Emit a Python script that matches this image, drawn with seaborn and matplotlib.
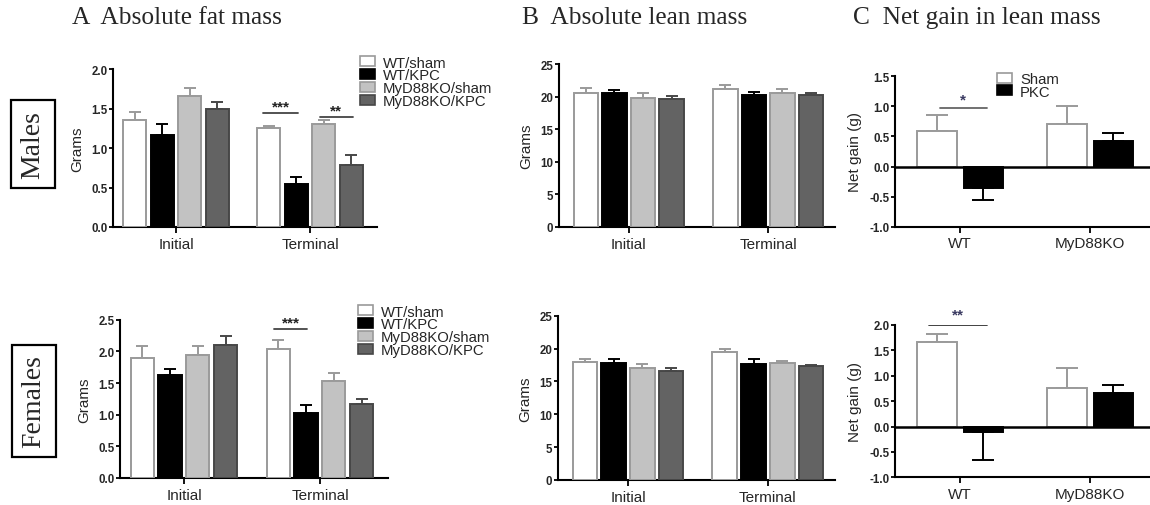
import numpy as np
import pandas as pd
import matplotlib
matplotlib.use("Agg")
import matplotlib.pyplot as plt
import seaborn as sns
from matplotlib.patches import Patch

# ---------------- data ----------------
times = ["Initial", "Terminal"]
strains = ["WT/sham", "WT/KPC", "MyD88KO/sham", "MyD88KO/KPC"]

male_fat_initial = [1.36, 1.17, 1.66, 1.50]
male_fat_terminal = [1.25, 0.55, 1.30, 0.79]
male_fat_sem_initial = [0.09, 0.14, 0.10, 0.08]
male_fat_sem_terminal = [0.03, 0.08, 0.06, 0.12]

female_fat_initial = [1.90, 1.63, 1.94, 2.10]
female_fat_terminal = [2.04, 1.03, 1.53, 1.17]
female_fat_sem_initial = [0.18, 0.09, 0.15, 0.15]
female_fat_sem_terminal = [0.14, 0.13, 0.13, 0.08]

male_lean_initial = [20.6, 20.6, 19.8, 19.7]
male_lean_terminal = [21.2, 20.3, 20.6, 20.2]
male_lean_sem_initial = [0.7, 0.45, 0.7, 0.45]
male_lean_sem_terminal = [0.6, 0.4, 0.5, 0.4]

female_lean_initial = [17.9, 17.8, 17.1, 16.65]
female_lean_terminal = [19.55, 17.65, 17.85, 17.3]
female_lean_sem_initial = [0.45, 0.65, 0.55, 0.35]
female_lean_sem_terminal = [0.4, 0.75, 0.25, 0.15]

genotypes = ["WT", "MyD88KO"]
treatments = ["Sham", "PKC"]
male_gain_sham = [0.59, 0.70]
male_gain_pkc = [-0.36, 0.42]
male_gain_sem_sham = [0.26, 0.31]
male_gain_sem_pkc = [0.20, 0.14]

female_gain_sham = [1.66, 0.76]
female_gain_pkc = [-0.10, 0.66]
female_gain_sem_sham = [0.16, 0.40]
female_gain_sem_pkc = [0.56, 0.16]

# ---------------- style ----------------
sns.set_style("ticks")
plt.rcParams["font.family"] = ["Liberation Sans", "DejaVu Sans"]
SERIF = ["Liberation Serif", "DejaVu Serif"]

fill_4 = {"WT/sham": "#ffffff", "WT/KPC": "#000000",
          "MyD88KO/sham": "#c2c2c2", "MyD88KO/KPC": "#636363"}
edge_4 = {"WT/sham": "#9a9a9a", "WT/KPC": "#000000",
          "MyD88KO/sham": "#9a9a9a", "MyD88KO/KPC": "#474747"}
fill_2 = {"Sham": "#ffffff", "PKC": "#000000"}
edge_2 = {"Sham": "#9a9a9a", "PKC": "#000000"}

fig = plt.figure(figsize=(11.5, 5.06), dpi=100)
W, H = 1150.0, 506.0


def add_ax(left, right, top, bottom):
    return fig.add_axes([left / W, 1 - bottom / H, (right - left) / W, (bottom - top) / H])


def grouped(ax, cats, hues, values_by_cat, sems_by_cat, fills, edges,
            width, gap, capsize):
    rows = []
    for c, vals, sems in zip(cats, values_by_cat, sems_by_cat):
        for h, v, s in zip(hues, vals, sems):
            rows.append({"cat": c, "hue": h, "value": v, "sem": s})
    df = pd.DataFrame(rows)
    sns.barplot(data=df, x="cat", y="value", hue="hue", order=cats,
                hue_order=hues, palette=fills, saturation=1, width=width,
                gap=gap, errorbar=None, legend=False, linewidth=1.4, ax=ax,
                zorder=3)
    centers = {}
    for h, cont in zip(hues, ax.containers):
        for c, patch in zip(cats, cont):
            patch.set_edgecolor(edges[h])
            x = patch.get_x() + patch.get_width() / 2
            y = patch.get_y() + patch.get_height()
            s = df[(df.cat == c) & (df.hue == h)]["sem"].iloc[0]
            yerr = [[0], [s]] if y >= 0 else [[s], [0]]
            ax.errorbar([x], [y], yerr=yerr, color=edges[h], capsize=capsize,
                        elinewidth=1.4, capthick=1.4, zorder=2)
            centers[(c, h)] = x
    return centers


def style(ax, ylim, yticks, fmt, ylabel):
    ax.set_ylim(*ylim)
    ax.set_yticks(yticks)
    ax.set_yticklabels([fmt.format(t) for t in yticks], fontsize=8.3,
                       fontweight="bold")
    ax.set_xlabel("")
    ax.set_ylabel(ylabel, fontsize=11, labelpad=5)
    for s in ["top", "right"]:
        ax.spines[s].set_visible(False)
    for s in ["left", "bottom"]:
        ax.spines[s].set_linewidth(1.5)
        ax.spines[s].set_color("black")
    ax.tick_params(axis="y", length=3, width=1.3, pad=1, color="black")
    ax.tick_params(axis="x", length=4, width=1.3, pad=3, labelsize=11,
                   color="black")
    ax.set_facecolor("none")


def sig(ax, x0, x1, y, text, lcolor, tcolor, ty):
    ax.plot([x0, x1], [y, y], color=lcolor, lw=1.3, zorder=4)
    ax.text((x0 + x1) / 2, ty, text, ha="center", va="center",
            fontsize=11, color=tcolor, fontweight="bold")


def legend(ax, names, fills, edges, bx, by, fs=10.7):
    handles = [Patch(facecolor=fills[n], edgecolor=edges[n], linewidth=1.2)
               for n in names]
    ax.legend(handles, names, loc="upper left", bbox_to_anchor=(bx, by),
              frameon=False, fontsize=fs, handlelength=1.0, handleheight=0.65,
              handletextpad=0.55, labelspacing=-0.08, borderpad=0,
              borderaxespad=0)


# ---------- Panel A ----------
axAm = add_ax(113, 377, 70, 228)
c = grouped(axAm, times, strains, [male_fat_initial, male_fat_terminal],
            [male_fat_sem_initial, male_fat_sem_terminal], fill_4, edge_4,
            0.82, 0.17, 4.5)
axAm.set_xlim(-0.47, 1.5)
style(axAm, (0, 2.0), [0, 0.5, 1.0, 1.5, 2.0], "{:.1f}", "Grams")
sig(axAm, c[("Terminal", "WT/sham")] - 0.04, c[("Terminal", "WT/KPC")] + 0.01,
    1.44, "***", "#444444", "#222222", 1.53)
sig(axAm, c[("Terminal", "MyD88KO/sham")] - 0.03, c[("Terminal", "MyD88KO/KPC")] + 0.01,
    1.39, "**", "#444444", "#222222", 1.48)
legend(axAm, strains, fill_4, edge_4, 0.936, 1.085)

axAf = add_ax(120, 388, 320.7, 479)
c = grouped(axAf, times, strains, [female_fat_initial, female_fat_terminal],
            [female_fat_sem_initial, female_fat_sem_terminal], fill_4, edge_4,
            0.82, 0.17, 4.5)
axAf.set_xlim(-0.47, 1.5)
style(axAf, (0, 2.5), [0, 0.5, 1.0, 1.5, 2.0, 2.5], "{:.1f}", "Grams")
sig(axAf, c[("Terminal", "WT/sham")] - 0.03, c[("Terminal", "WT/KPC")] + 0.01,
    2.35, "***", "#444444", "#222222", 2.46)
legend(axAf, strains, fill_4, edge_4, 0.888, 1.095)

# ---------- Panel B ----------
axBm = add_ax(559, 835, 65, 228)
grouped(axBm, times, strains, [male_lean_initial, male_lean_terminal],
        [male_lean_sem_initial, male_lean_sem_terminal], fill_4, edge_4,
        0.82, 0.14, 4.5)
axBm.set_xlim(-0.5, 1.48)
style(axBm, (0, 25), [0, 5, 10, 15, 20, 25], "{:d}", "Grams")

axBf = add_ax(558, 835, 316.7, 481)
grouped(axBf, times, strains, [female_lean_initial, female_lean_terminal],
        [female_lean_sem_initial, female_lean_sem_terminal], fill_4, edge_4,
        0.82, 0.14, 4.5)
axBf.set_xlim(-0.5, 1.48)
style(axBf, (0, 25), [0, 5, 10, 15, 20, 25], "{:d}", "Grams")

# ---------- Panel C ----------
axCm = add_ax(895, 1150, 77.3, 227.7)
c = grouped(axCm, genotypes, treatments,
            [[male_gain_sham[i], male_gain_pkc[i]] for i in range(2)],
            [[male_gain_sem_sham[i], male_gain_sem_pkc[i]] for i in range(2)],
            fill_2, edge_2, 0.71, 0.15, 8)
axCm.set_xlim(-0.5, 1.46)
style(axCm, (-1.0, 1.5), [-1.0, -0.5, 0.0, 0.5, 1.0, 1.5], "{:.1f}", "Net gain (g)")
axCm.axhline(0, color="black", lw=1.8, zorder=4)
sig(axCm, c[("WT", "Sham")] + 0.02, c[("WT", "PKC")] + 0.03,
    0.98, "*", "#666666", "#3b3b62", 1.12)
legend(axCm, treatments, fill_2, edge_2, 0.40, 1.03)

axCf = add_ax(895, 1150, 326, 478.3)
c = grouped(axCf, genotypes, treatments,
            [[female_gain_sham[i], female_gain_pkc[i]] for i in range(2)],
            [[female_gain_sem_sham[i], female_gain_sem_pkc[i]] for i in range(2)],
            fill_2, edge_2, 0.71, 0.15, 8)
axCf.set_xlim(-0.5, 1.46)
style(axCf, (-1.0, 2.0), [-1.0, -0.5, 0.0, 0.5, 1.0, 1.5, 2.0], "{:.1f}", "Net gain (g)")
axCf.axhline(0, color="black", lw=1.8, zorder=4)
sig(axCf, c[("WT", "Sham")] - 0.06, c[("WT", "PKC")] + 0.03,
    2.0, "**", "#333333", "#3b3b62", 2.2)

# ---------- titles & row labels ----------
fig.text(72 / W, 1 - 18 / H, "A  Absolute fat mass", family=SERIF, fontsize=18.3,
         ha="left", va="center")
fig.text(522 / W, 1 - 18 / H, "B  Absolute lean mass", family=SERIF, fontsize=18.3,
         ha="left", va="center")
fig.text(853 / W, 1 - 18 / H, "C  Net gain in lean mass", family=SERIF, fontsize=18.3,
         ha="left", va="center")

box = dict(boxstyle="square,pad=0.35", facecolor="white", edgecolor="black", lw=1.6)
fig.text(33 / W, 1 - 145 / H, "Males", family=SERIF, fontsize=20, rotation=90,
         ha="center", va="center", bbox=box)
fig.text(34 / W, 1 - 402 / H, "Females", family=SERIF, fontsize=20, rotation=90,
         ha="center", va="center", bbox=box)

fig.savefig("out.png", dpi=100)
